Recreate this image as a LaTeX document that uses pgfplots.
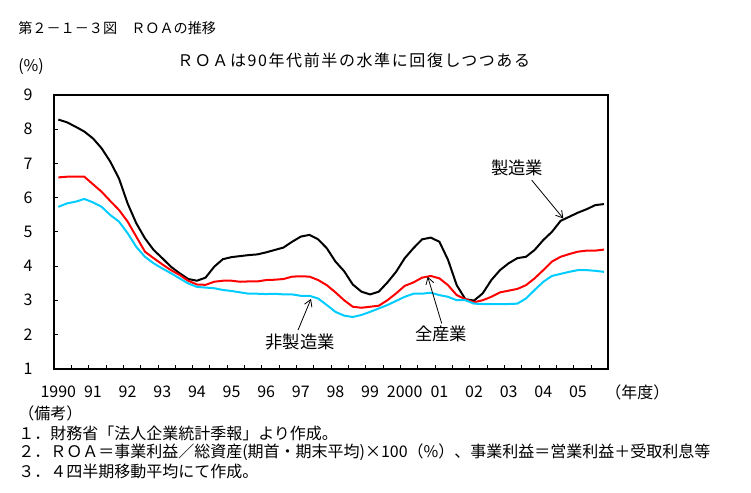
\documentclass[border=0pt]{standalone}
\usepackage{fontspec}
\setmainfont{Noto Sans CJK JP}
\usepackage{pgfplots}
\usepackage{pgfplotstable}
\pgfplotsset{compat=1.18}
\usetikzlibrary{arrows.meta}
\definecolor{cyanline}{RGB}{0,204,255}
\pgfplotstableread{
i m a n
0 8.28 6.59 5.73
1 8.20 6.61 5.83
2 8.07 6.61 5.88
3 7.93 6.61 5.96
4 7.73 6.39 5.86
5 7.44 6.17 5.73
6 7.05 5.90 5.49
7 6.56 5.64 5.30
8 5.83 5.30 4.96
9 5.25 4.86 4.56
10 4.81 4.42 4.27
11 4.47 4.23 4.08
12 4.23 4.05 3.93
13 3.98 3.88 3.79
14 3.79 3.74 3.64
15 3.62 3.57 3.49
16 3.57 3.46 3.39
17 3.66 3.45 3.37
18 3.98 3.54 3.35
19 4.20 3.57 3.30
20 4.26 3.57 3.27
21 4.29 3.54 3.23
22 4.32 3.55 3.19
23 4.34 3.55 3.19
24 4.40 3.59 3.18
25 4.47 3.60 3.19
26 4.54 3.62 3.17
27 4.71 3.69 3.17
28 4.86 3.70 3.13
29 4.91 3.69 3.13
30 4.78 3.59 3.05
31 4.52 3.44 2.86
32 4.13 3.23 2.66
33 3.85 3.00 2.55
34 3.46 2.81 2.51
35 3.25 2.78 2.57
36 3.17 2.81 2.66
37 3.25 2.84 2.76
38 3.52 3.00 2.86
39 3.83 3.20 2.98
40 4.23 3.42 3.10
41 4.52 3.52 3.19
42 4.78 3.66 3.19
43 4.83 3.71 3.22
44 4.71 3.64 3.15
45 4.18 3.44 3.10
46 3.44 3.15 3.00
47 3.03 3.03 3.00
48 2.99 2.94 2.90
49 3.20 3.00 2.89
50 3.59 3.10 2.89
51 3.88 3.23 2.89
52 4.08 3.28 2.89
53 4.23 3.33 2.90
54 4.27 3.44 3.05
55 4.47 3.64 3.30
56 4.76 3.88 3.54
57 5.00 4.13 3.71
58 5.32 4.27 3.77
59 5.44 4.35 3.83
60 5.56 4.42 3.88
61 5.66 4.45 3.88
62 5.78 4.45 3.86
63 5.81 4.48 3.83
}\roadata
\begin{document}
\begin{tikzpicture}
\path[use as bounding box] (0,0) rectangle (563.25pt,-369.75pt);
\begin{axis}[
  at={(40.5pt,-276.5pt)}, anchor=south west,
  scale only axis, width=415.7pt, height=205.3pt,
  xmin=-0.5, xmax=63.5, ymin=1, ymax=9,
  axis line style={line width=1.5pt},
  xtick={-0.5,1.5,...,63.5}, xticklabels={},
  extra x ticks={0,4,...,60},
  extra x tick labels={1990,91,92,93,94,95,96,97,98,99,2000,01,02,03,04,05},
  extra x tick style={major tick length=0pt},
  ytick={1,2,...,9},
  tick align=inside, xtick pos=bottom, ytick pos=left,
  major tick length=3pt,
  tick style={black, line width=0.6pt},
  yticklabel style={anchor=center, xshift=-19.5pt},
  xticklabel style={anchor=center, yshift=-17.25pt},
  ticklabel style={font=\fontsize{12}{14}\selectfont},
  /pgf/number format/assume math mode=true,
  clip=false,
]
\addplot[black, line width=1.5pt] table[x=i,y=m]{\roadata};
\addplot[red, line width=1.5pt] table[x=i,y=a]{\roadata};
\addplot[cyanline, line width=1.5pt] table[x=i,y=n]{\roadata};
\node[font=\fontsize{13}{15}\selectfont] at (axis cs:53.0,6.88) {製造業};
\draw[-{Straight Barb[length=5pt,width=6pt]}, line width=0.6pt] (axis cs:54.66,6.51) -- (axis cs:58.31,5.39);
\node[font=\fontsize{13}{15}\selectfont] at (axis cs:44.19,2.01) {全産業};
\draw[-{Straight Barb[length=5pt,width=6pt]}, line width=0.6pt] (axis cs:44.27,2.32) -- (axis cs:42.65,3.69);
\node[font=\fontsize{13}{15}\selectfont] at (axis cs:27.91,1.78) {非製造業};
\draw[-{Straight Barb[length=5pt,width=6pt]}, line width=0.6pt] (axis cs:27.68,2.13) -- (axis cs:29.18,3.04);
\end{axis}
\node[anchor=west, inner sep=0, font=\fontsize{10.6}{13}\selectfont] at (13.5pt,-21pt) {第２－１－３図　ＲＯＡの推移};
\node[anchor=west, inner sep=0, font=\fontsize{12}{14}\selectfont] at (13.5pt,-50.25pt) {(\%)};
\node[anchor=west, inner sep=0, font=\fontsize{12}{14}\selectfont\addfontfeature{LetterSpace=10}] at (132.75pt,-45pt) {ＲＯＡは90年代前半の水準に回復しつつある};
\node[anchor=west, inner sep=0, font=\fontsize{12}{14}\selectfont] at (453.75pt,-294pt) {（年度）};
\node[anchor=west, inner sep=0, font=\fontsize{12}{14}\selectfont] at (13.5pt,-309.75pt) {（備考）};
\node[anchor=west, inner sep=0, font=\fontsize{12}{14}\selectfont] at (13.5pt,-324.75pt) {１．財務省「法人企業統計季報」より作成。};
\node[anchor=west, inner sep=0, font=\fontsize{12}{14}\selectfont] at (13.5pt,-339pt) {２．ＲＯＡ＝事業利益／総資産(期首・期末平均)×100（\%）、事業利益＝営業利益＋受取利息等};
\node[anchor=west, inner sep=0, font=\fontsize{12}{14}\selectfont] at (13.5pt,-353.25pt) {３．４四半期移動平均にて作成。};
\end{tikzpicture}
\end{document}
